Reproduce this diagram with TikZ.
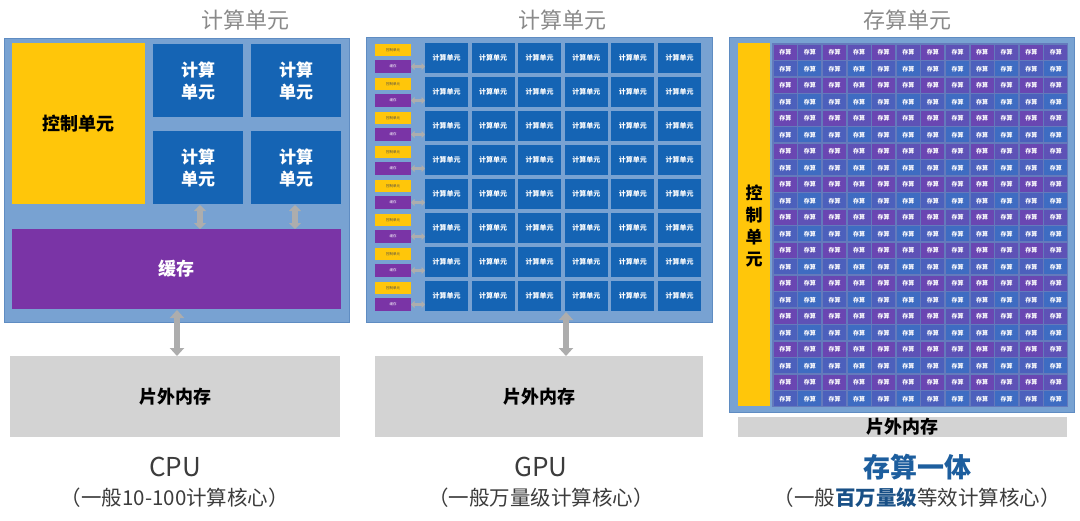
\documentclass[tikz,border=0pt]{standalone}
\usepackage{fontspec}
\setmainfont{Noto Sans CJK SC}
\usetikzlibrary{arrows.meta}
\definecolor{panelc}{HTML}{78A2D2}
\definecolor{panelb}{HTML}{5F8CC2}
\definecolor{compc}{HTML}{1564B4}
\definecolor{ctlc}{HTML}{FFC60A}
\definecolor{cachec}{HTML}{7A34A6}
\definecolor{memc}{HTML}{D3D3D3}
\definecolor{arrc}{HTML}{ADADAD}
\definecolor{titlec}{HTML}{8A8A8A}
\definecolor{labc}{HTML}{3C3C3C}
\definecolor{pimblue}{HTML}{1D5E9E}
\definecolor{cell0}{HTML}{6A46B2}
\definecolor{cell1}{HTML}{5E52B6}
\definecolor{cell2}{HTML}{4C60BC}
\definecolor{cell3}{HTML}{3E6CC2}
\newcommand{\mybox}[7]{\node[#6, minimum width={(#4)-(#2)}, minimum height={(#5)-(#3)}] (#1) at ({((#2)+(#4))/2},{((#3)+(#5))/2}) {#7};}
\begin{document}
\begin{tikzpicture}[x=1pt,y=-1pt,
  box/.style={rectangle,inner sep=0pt,outer sep=0pt,draw=none},
  panel/.style={box,fill=panelc,draw=panelb,line width=0.8pt},
  comp/.style={box,fill=compc,text=white,align=center,font=\fontsize{17}{22}\selectfont\bfseries},
  ctl/.style={box,fill=ctlc,text=black,font=\fontsize{18}{22}\selectfont\bfseries},
  cache/.style={box,fill=cachec,text=white,font=\fontsize{18}{22}\selectfont\bfseries},
  mem/.style={box,fill=memc,text=black,font=\fontsize{18}{22}\selectfont\bfseries},
  gcomp/.style={box,fill=compc,text=white,font=\fontsize{7}{8}\selectfont\bfseries},
  gctl/.style={box,fill=ctlc,text=black!70,font=\fontsize{3.5}{4}\selectfont},
  gcache/.style={box,fill=cachec,text=white,font=\fontsize{3.5}{4}\selectfont},
  pcell/.style={box,text=white,font=\fontsize{6}{7}\selectfont\bfseries},
  title/.style={text=titlec,font=\fontsize{22}{26}\selectfont},
  lab/.style={text=labc,font=\fontsize{26}{30}\selectfont},
  sub/.style={text=labc,font=\fontsize{20.5}{24}\selectfont},
  bigarr/.style={draw=arrc,line width=6.5pt,{Triangle[width=14pt,length=8pt]}-{Triangle[width=14pt,length=8pt]}},
  midarr/.style={draw=arrc,line width=6pt,{Triangle[width=12pt,length=6pt]}-{Triangle[width=12pt,length=6pt]}},
  smallarr/.style={draw=arrc,line width=3.5pt,{Triangle[width=7pt,length=3.5pt]}-{Triangle[width=7pt,length=3.5pt]}}
]
\useasboundingbox (0,0) rectangle (1080,520);
\fill[white] (0,0) rectangle (1080,520);

% ---------------- CPU ----------------
\node[title] (tcpu) at (245,20) {计算单元};
\mybox{cpupanel}{4}{38}{349}{322}{panel}{}
\mybox{cctl}{12}{43}{145}{204}{ctl}{控制单元}
\mybox{cc1}{153}{44}{243}{117}{comp}{计算\\单元}
\mybox{cc2}{251}{44}{341}{117}{comp}{计算\\单元}
\mybox{cc3}{153}{131}{243}{204}{comp}{计算\\单元}
\mybox{cc4}{251}{131}{341}{204}{comp}{计算\\单元}
\mybox{ccache}{12}{229}{341}{309}{cache}{缓存}
\mybox{cmem}{10}{356}{340}{437}{mem}{片外内存}
\coordinate (ca1) at (200,205);
\coordinate (ca2) at (295,205);
\draw[midarr] (ca1) -- (ca1 |- ccache.north);
\draw[midarr] (ca2) -- (ca2 |- ccache.north);
\coordinate (cm) at (177,310);
\draw[bigarr] (cm) -- (cm |- cmem.north);
\node[lab] (lcpu) at (175,467) {CPU};
\node[sub] (scpu) at (175,498) {（一般10-100计算核心）};

% ---------------- GPU ----------------
\node[title] (tgpu) at (562,20) {计算单元};
\mybox{gpupanel}{366}{37}{712}{322}{panel}{}
\foreach \i in {0,...,7}{
  \pgfmathsetmacro\t{43+34*\i}
  \mybox{gy\i}{375}{\t+1}{411}{\t+13}{gctl}{控制单元}
  \mybox{gp\i}{375}{\t+17}{411}{\t+30}{gcache}{缓存}
  \foreach \j in {0,...,5}{
    \pgfmathsetmacro\l{425+46.6*\j}
    \mybox{gc\i-\j}{\l}{\t}{\l+43}{\t+30}{gcomp}{计算单元}
  }
  \draw[smallarr] (gp\i.east) -- (gp\i.east -| gc\i-0.west);
}
\mybox{gmem}{375}{356}{703}{437}{mem}{片外内存}
\coordinate (gm) at (566,312);
\draw[bigarr] (gm) -- (gm |- gmem.north);
\node[lab] (lgpu) at (541,467) {GPU};
\node[sub] (sgpu) at (541,498) {（一般万量级计算核心）};

% ---------------- PIM ----------------
\node[title] (tpim) at (907,20) {存算单元};
\mybox{pimpanel}{729}{37}{1074}{412}{panel}{}
\mybox{pctl}{738}{43}{770}{406}{box,fill=ctlc}{}
\node[text=black,align=center,font=\fontsize{17}{22}\selectfont\bfseries] (pctltext) at (754,226) {控\\制\\单\\元};
\fill[panelb!80!cachec] (772,43) rectangle (1068,407);
\foreach \r in {0,...,21}{
  \foreach \c in {0,...,11}{
    \pgfmathtruncatemacro\p{mod(\r,2)*2+mod(\c,2)}
    \pgfmathsetmacro\xl{773+24.6*\c}
    \pgfmathsetmacro\yt{44+16.5*\r}
    \mybox{pc\r-\c}{\xl+0.8}{\yt+0.8}{\xl+23.8}{\yt+15.7}{pcell,fill=cell\p}{存算}
  }
}
\mybox{pmem}{738}{417}{1067}{437}{mem}{片外内存}
\node[text=pimblue,font=\fontsize{27}{30}\selectfont\bfseries] (lpim) at (917,467) {存算一体};
\node[sub] (spim) at (917,498) {（一般{\bfseries\color{pimblue!85!black}百万量级}等效计算核心）};
\end{tikzpicture}
\end{document}
